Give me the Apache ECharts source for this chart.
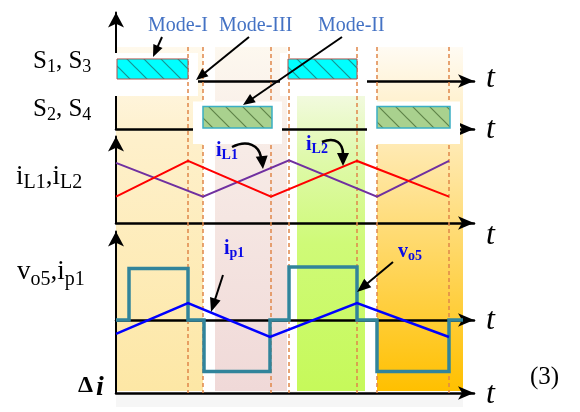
<!DOCTYPE html>
<html><head><meta charset="utf-8">
<script src="https://cdn.jsdelivr.net/npm/echarts@6/dist/echarts.min.js"></script>
<style>html,body{margin:0;padding:0;background:#fff}#c{width:580px;height:412px}</style>
</head><body><div id="c"></div>
<script>
// ---------------- data (time in arbitrary units, 0 = vertical axis) ----------------
const tMax = 358;
const dashTimes = [72, 87, 155, 173, 241, 261, 333];
const s13Start = [1, 172];
const s13End = [72, 241];
const s24Start = [87, 261];
const s24End = [156, 334];
const modeStart = [0, 99, 181, 261];
const modeEnd = [87, 171, 249, 347];
const modeTop = [1, 1, 0.861, 1];
// inductor currents
const iL1Time = [0, 72, 155, 241, 333];
const iL1Val = [0.42, 0.99, 0.42, 0.99, 0.42];
const iL2Time = [0, 87, 173, 261, 333];
const iL2Val = [0.96, 0.42, 1.0, 0.42, 0.99];
// primary current and output voltage
const ip1Time = [0, 72, 154, 241, 333];
const ip1Val = [-0.27, 0.33, -0.33, 0.33, -0.33];
const vo5Time = [0, 13, 13, 72, 72, 88, 88, 154, 154, 173, 173, 241, 241, 261, 261, 333, 333, 347];
const vo5Val = [0, 0, 1, 1, 0, 0, -1, -1, 0, 0, 1.03, 1.03, 0, 0, -1, -1, 0, 0];

// ---------------- helpers ----------------
const SERIF = "'Liberation Serif','Times New Roman',serif";
const mctx = document.createElement('canvas').getContext('2d');
function textRun(x, base, parts, opt) {
  const els = [];
  let cx = x;
  parts.forEach(p => {
    const [txt, size, dy, st] = p;
    const font = `${st || opt.style || 'normal'} ${opt.weight || 'normal'} ${size}px ${SERIF}`;
    els.push({ type: 'text', x: cx, y: base + (dy || 0) - 0.33 * size, z: 20,
      style: { text: txt, font: font, fill: opt.color || '#000', align: 'left', verticalAlign: 'middle' } });
    mctx.font = font; cx += mctx.measureText(txt).width;
  });
  return els;
}
function head(tx, ty, fx, fy, L, W) {
  const dx = tx - fx, dy = ty - fy, d = Math.hypot(dx, dy), ux = dx / d, uy = dy / d;
  const bx = tx - ux * L, by = ty - uy * L, nx = -uy, ny = ux;
  return { type: 'polygon', z: 20, shape: { points: [[tx, ty], [bx + nx * W / 2, by + ny * W / 2], [bx - nx * W / 2, by - ny * W / 2]] }, style: { fill: '#000' } };
}
function arrow(x1, y1, x2, y2, L, W) {
  L = L || 12; W = W || 10;
  const dx = x2 - x1, dy = y2 - y1, d = Math.hypot(dx, dy);
  return [
    { type: 'polyline', z: 20, shape: { points: [[x1, y1], [x2 - dx / d * L * 0.7, y2 - dy / d * L * 0.7]] }, style: { stroke: '#000', lineWidth: 2, fill: null } },
    head(x2, y2, x1, y1, L, W)
  ];
}
function curved(x1, y1, c1x, c1y, c2x, c2y, x2, y2, tx, ty) {
  return [
    { type: 'bezierCurve', z: 20, shape: { x1: x1, y1: y1, cpx1: c1x, cpy1: c1y, cpx2: c2x, cpy2: c2y, x2: x2, y2: y2 }, style: { stroke: '#000', lineWidth: 2.5, fill: null } },
    head(tx, ty, x2 - (tx - x2) * 0.2, y2 - (ty - y2) * 1, 13, 12)
  ];
}
function hatch(bg, ink, step, lw) {
  const c = document.createElement('canvas'); c.width = c.height = step;
  const g = c.getContext('2d');
  g.fillStyle = bg; g.fillRect(0, 0, step, step);
  g.strokeStyle = ink; g.lineWidth = lw;
  g.beginPath();
  g.moveTo(-1, -1); g.lineTo(step + 1, step + 1);
  g.moveTo(-1, step - 1); g.lineTo(1, step + 1);
  g.moveTo(step - 1, -1); g.lineTo(step + 1, 1);
  g.stroke();
  return c;
}
const cyanHatch = hatch('#00FFFF', 'rgba(30,110,110,0.75)', 17, 1.2);
const greenHatch = hatch('#A9D18E', 'rgba(70,105,50,0.75)', 17, 1.2);

const modeFills = [
  [[0, '#FFF9EC'], [0.27, '#FEF0CB'], [1, '#FDE7A5']],
  [[0, '#FDF8EF'], [0.3, '#F7EBE6'], [1, '#F0D9D8']],
  [[0, '#F2FADF'], [0.2, '#E0F9AE'], [0.5, '#CFFA78'], [1, '#C6F95A']],
  [[0, '#FFFBF3'], [0.25, '#FFECBC'], [1, '#FFC000']]
];

// ---------------- axes ----------------
const AX = { color: '#000', width: 2.5 };
const grids = [
  { left: 116, top: 12.5, width: tMax, height: 68.5 },  // 0 S1,S3
  { left: 116, top: 81, width: tMax, height: 48 },      // 1 S2,S4
  { left: 116, top: 136.5, width: tMax, height: 86.5 }, // 2 iL
  { left: 116, top: 231.5, width: tMax, height: 161.5 },// 3 vo5, ip1
  { left: 116, top: 393, width: tMax, height: 14 },     // 4 delta i axis
  { left: 116, top: 47, width: tMax, height: 346 }      // 5 background / dashed
];
function xa(i, show, opts) {
  return Object.assign({ gridIndex: i, type: 'value', min: 0, max: tMax, z: 2,
    axisLine: { show: show, onZero: false, symbol: ['none', 'arrow'], symbolSize: [10, 16], lineStyle: AX },
    axisTick: { show: false }, axisLabel: { show: false }, splitLine: { show: false } }, opts || {});
}
function ya(i, min, max, show, arrowOn) {
  return { gridIndex: i, type: 'value', min: min, max: max, z: 2,
    axisLine: { show: show, onZero: false, symbol: ['none', arrowOn ? 'arrow' : 'none'], symbolSize: [12, 15], lineStyle: { color: '#000', width: 2 } },
    axisTick: { show: false }, axisLabel: { show: false }, splitLine: { show: false } };
}
const xAxes = [xa(0, true), xa(1, true), xa(2, true), xa(3, true, { axisLine: { show: true, onZero: true, symbol: ['none', 'arrow'], symbolSize: [10, 16], lineStyle: AX } }), xa(4, true, { position: 'top' }), xa(5, false)];
const yAxes = [ya(0, 0, 3.11, true, true), ya(1, 0, 2.13, true, false), ya(2, 0, 1.38, true, true), ya(3, -1.417, 1.718, true, true), ya(4, 0, 1, false, false), ya(5, 0, 1, false, false)];

// ---------------- series ----------------
function boxSeries(ax, starts, ends, pad, z) {
  return { type: 'custom', xAxisIndex: ax, yAxisIndex: ax, z: z, silent: true, animation: false,
    data: starts.map((s, i) => [s, ends[i], 1]),
    renderItem: (p, api) => {
      const a = api.coord([api.value(0), api.value(2)]), b = api.coord([api.value(1), 0]);
      return { type: 'rect', shape: { x: a[0] - pad[3], y: a[1] - pad[0], width: b[0] - a[0] + pad[1] + pad[3], height: b[1] - a[1] + pad[0] + pad[2] }, style: { fill: '#fff' } };
    } };
}
function pulseSeries(ax, starts, ends, pattern, border, bw, gap) {
  return { type: 'custom', xAxisIndex: ax, yAxisIndex: ax, z: 6, silent: true, animation: false,
    data: starts.map((s, i) => [s, ends[i], 1]),
    renderItem: (p, api) => {
      const a = api.coord([api.value(0), api.value(2)]), b = api.coord([api.value(1), 0]);
      return { type: 'rect', shape: { x: a[0], y: a[1], width: b[0] - a[0], height: b[1] - a[1] - gap }, style: { fill: { image: pattern, repeat: 'repeat' }, stroke: border, lineWidth: bw } };
    } };
}
function lineSeries(ax, times, vals, color, width, z) {
  return { type: 'line', xAxisIndex: ax, yAxisIndex: ax, z: z, silent: true, animation: false,
    showSymbol: false, symbol: 'none', data: times.map((t, i) => [t, vals[i]]),
    lineStyle: { color: color, width: width, join: 'miter' } };
}
const series = [
  { type: 'custom', xAxisIndex: 5, yAxisIndex: 5, z: 1, silent: true, animation: false,
    data: modeStart.map((s, i) => [s, modeEnd[i], modeTop[i], i]),
    renderItem: (p, api) => {
      const a = api.coord([api.value(0), api.value(2)]), b = api.coord([api.value(1), 0]);
      const stops = modeFills[api.value(3)].map(s => ({ offset: s[0], color: s[1] }));
      return { type: 'rect', shape: { x: a[0], y: a[1], width: b[0] - a[0], height: b[1] - a[1] - 2 }, style: { fill: new echarts.graphic.LinearGradient(0, 0, 0, 1, stops) } };
    } },
  { type: 'custom', xAxisIndex: 4, yAxisIndex: 4, z: 1, silent: true, animation: false,
    data: [[modeStart[0], modeEnd[modeEnd.length - 1], 1]],
    renderItem: (p, api) => {
      const a = api.coord([api.value(0), api.value(2)]), b = api.coord([api.value(1), 0]);
      return { type: 'rect', shape: { x: a[0], y: a[1], width: b[0] - a[0], height: b[1] - a[1] }, style: { fill: '#F6F6F6' } };
    } },
  boxSeries(0, s13Start, s13End, [6, 10, 15, 8], 3),
  { type: 'custom', xAxisIndex: 5, yAxisIndex: 5, z: 4, silent: true, animation: false,
    data: dashTimes.map(t => [t, 1]),
    renderItem: (p, api) => {
      const a = api.coord([api.value(0), 1]), b = api.coord([api.value(0), 0]);
      return { type: 'line', shape: { x1: a[0], y1: a[1], x2: b[0], y2: b[1] }, style: { stroke: '#E0874A', lineWidth: 1.5, lineDash: [4, 3] } };
    } },
  boxSeries(1, s24Start, s24End, [5, 10, 15, 10], 5),
  pulseSeries(0, s13Start, s13End, cyanHatch, '#B0504A', 1, 2),
  pulseSeries(1, s24Start, s24End, greenHatch, '#3AAFC4', 1.5, 1),
  lineSeries(2, iL2Time, iL2Val, '#7030A0', 2, 7),
  lineSeries(2, iL1Time, iL1Val, '#FF0000', 2, 7),
  lineSeries(3, vo5Time, vo5Val, '#31849B', 3.5, 7),
  lineSeries(3, ip1Time, ip1Val, '#0000FF', 2.5, 8)
];

// ---------------- annotations ----------------
let g = [];
g = g.concat(textRun(33, 70, [['S', 25], ['1', 18, 3], [', ', 25], ['S', 25], ['3', 18, 3]], {}));
g = g.concat(textRun(33, 118, [['S', 25], ['2', 18, 3], [', ', 25], ['S', 25], ['4', 18, 3]], {}));
g = g.concat(textRun(16, 186, [['i', 27], ['L1', 20, 3], [',', 27], ['i', 27], ['L2', 20, 3]], {}));
g = g.concat(textRun(17, 281, [['v', 27], ['o5', 20, 5], [',', 27], ['i', 27], ['p1', 20, 5]], {}));
g = g.concat(textRun(78, 394, [['Δ', 24]], { weight: 'bold' }));
g = g.concat(textRun(96, 397, [['i', 28]], { style: 'italic', weight: 'bold' }));
[79, 130, 236, 321, 395].forEach(y => g = g.concat(textRun(486, y + 10, [['t', 32]], { style: 'italic' })));
g = g.concat(textRun(530, 386, [['(3)', 25]], {}));
const modeColor = '#4472C4';
g = g.concat(textRun(148, 32, [['Mode-I', 20]], { color: modeColor }));
g = g.concat(textRun(219, 32, [['Mode-III', 20]], { color: modeColor }));
g = g.concat(textRun(318, 32, [['Mode-II', 20]], { color: modeColor }));
const blue = '#0A0AE6';
g = g.concat(textRun(216, 157, [['i', 20], ['L1', 14, 3]], { weight: 'bold', color: blue }));
g = g.concat(textRun(306, 151, [['i', 20], ['L2', 14, 3]], { weight: 'bold', color: blue }));
g = g.concat(textRun(224, 255, [['i', 20], ['p1', 14, 3]], { weight: 'bold', color: blue }));
g = g.concat(textRun(398, 258, [['v', 20], ['o5', 14, 3]], { weight: 'bold', color: blue }));
g = g.concat(arrow(162, 37, 153, 57));
g = g.concat(arrow(249, 37, 196, 80));
g = g.concat(arrow(342, 37, 243, 105));
g = g.concat(arrow(223, 275, 211, 312, 14, 11));
g = g.concat(arrow(393, 262, 357, 292, 14, 11));
g = g.concat(curved(232, 147, 248, 139, 259, 146, 261, 157, 263, 169));
g = g.concat(curved(322, 142, 336, 136, 343, 144, 343, 154, 343, 166));

const chart = echarts.init(document.getElementById('c'), null, { renderer: 'canvas' });
chart.setOption({
  animation: false,
  backgroundColor: '#fff',
  grid: grids,
  xAxis: xAxes,
  yAxis: yAxes,
  series: series,
  graphic: { elements: g }
});
</script></body></html>
